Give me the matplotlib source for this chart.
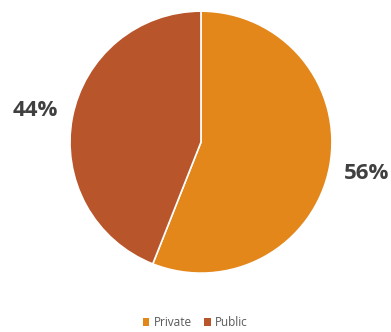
import matplotlib
matplotlib.use("Agg")
import matplotlib.pyplot as plt
from matplotlib.patches import Patch

categories = ["Private", "Public"]
values = [56, 44]
colors = ["#E3871B", "#B9552B"]

fig = plt.figure(figsize=(3.91, 3.32), dpi=100)
ax = fig.add_axes([0.514 - 0.335, 0.572 - 0.3946, 0.670, 0.789])
wedges, texts, autotexts = ax.pie(
    values, colors=colors, startangle=90, counterclock=False,
    autopct=lambda p: f"{p:.0f}%", pctdistance=1.29,
    wedgeprops=dict(edgecolor="white", linewidth=1.2),
    textprops=dict(fontsize=16, fontweight="bold", color="#404040", family="Open Sans"),
)
ax.set_aspect("equal")
ax.set_xlim(-1, 1)
ax.set_ylim(-1, 1)
ax.axis("off")

handles = [Patch(facecolor=c, edgecolor="none") for c in colors]
fig.legend(handles, categories, loc="center", bbox_to_anchor=(0.5, 0.028), ncol=2,
           frameon=False, handlelength=0.55, handleheight=0.55, handletextpad=0.4,
           columnspacing=1.0, prop=dict(family="Open Sans", size=8.5),
           labelcolor="#595959")

fig.savefig("out.png", dpi=100)
